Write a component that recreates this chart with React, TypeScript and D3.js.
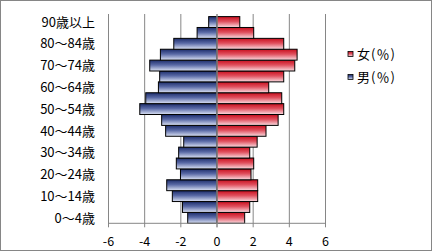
import React from "react";
import * as d3 from "d3";

const categories = [
  "0～4歳", "5～9歳", "10～14歳", "15～19歳", "20～24歳", "25～29歳", "30～34歳",
  "35～39歳", "40～44歳", "45～49歳", "50～54歳", "55～59歳", "60～64歳", "65～69歳",
  "70～74歳", "75～79歳", "80～84歳", "85～89歳", "90歳以上",
];
const male = [
  -1.62, -1.91, -2.47, -2.78, -2.02, -2.25, -2.12, -1.84, -2.84, -3.06,
  -4.27, -3.94, -3.24, -3.17, -3.72, -3.13, -2.39, -1.1, -0.46,
];
const female = [
  1.53, 1.81, 2.25, 2.25, 1.88, 2.03, 1.81, 2.22, 2.71, 3.38,
  3.69, 3.58, 2.86, 3.69, 4.3, 4.43, 3.69, 2.03, 1.26,
];
const xTicks = [-6, -4, -2, 0, 2, 4, 6];
const xTickLabels = ["-6", "-4", "-2", "0", "2", "4", "6"];
const seriesNames = ["女(％)", "男(％)"];

const W = 433;
const H = 252;
const FONT = "'Noto Sans CJK JP', 'Noto Sans', sans-serif";

export default function App() {
  const x = d3.scaleLinear().domain([-6, 6]).range([108.5, 325.5]);
  const y = d3
    .scaleBand<string>()
    .domain(categories)
    .range([223.3, 16.6])
    .padding(0);
  const bw = y.bandwidth();
  const plotBottom = 223.3;
  const gridTop = 14;

  return (
    <div style={{ position: "fixed", left: 0, top: 0 }}>
      <svg width={W} height={H} style={{ display: "block", fontFamily: FONT }}>
        <defs>
          <linearGradient id="gBlue" x1="0" y1="0" x2="0" y2="1">
            <stop offset="0" stopColor="#1c2c6a" />
            <stop offset="0.45" stopColor="#5a6aa6" />
            <stop offset="1" stopColor="#dce3f5" />
          </linearGradient>
          <linearGradient id="gRed" x1="0" y1="0" x2="0" y2="1">
            <stop offset="0" stopColor="#c80f1e" />
            <stop offset="0.45" stopColor="#e0505e" />
            <stop offset="1" stopColor="#fbdde2" />
          </linearGradient>
        </defs>
        <rect x={0} y={0} width={W} height={H} fill="#fff" />
        <rect x={0.5} y={0.5} width={431} height={250} fill="none" stroke="#868686" />

        {xTicks.map((t) => (
          <line
            key={"g" + t}
            x1={x(t)}
            x2={x(t)}
            y1={gridTop}
            y2={plotBottom + 4}
            stroke="#868686"
            strokeWidth={1}
          />
        ))}

        {categories.map((c, i) => (
          <rect
            key={"m" + c}
            x={x(male[i])}
            y={y(c)}
            width={x(0) - x(male[i])}
            height={bw}
            fill="url(#gBlue)"
            stroke="#000"
            strokeWidth={1}
          />
        ))}
        {categories.map((c, i) => (
          <rect
            key={"f" + c}
            x={x(0)}
            y={y(c)}
            width={x(female[i]) - x(0)}
            height={bw}
            fill="url(#gRed)"
            stroke="#000"
            strokeWidth={1}
          />
        ))}

        <line x1={x(0)} x2={x(0)} y1={gridTop} y2={plotBottom + 4} stroke="#9a9a9a" strokeWidth={1.3} />
        <line x1={x(-6)} x2={x(6)} y1={plotBottom} y2={plotBottom} stroke="#868686" />

        {categories.map((c, i) =>
          i % 2 === 0 ? (
            <text
              key={"l" + c}
              x={95}
              y={(y(c) as number) + bw / 2}
              dy="0.36em"
              textAnchor="end"
              fontSize={13}
              fill="#000"
            >
              {c}
            </text>
          ) : null
        )}

        {xTicks.map((t, i) => (
          <text
            key={"t" + t}
            x={x(t)}
            y={241}
            dy="0.36em"
            textAnchor="middle"
            fontSize={12.5}
            fill="#000"
          >
            {xTickLabels[i]}
          </text>
        ))}

        {seriesNames.map((s, i) => (
          <g key={s} transform={`translate(348, ${54 + i * 23})`}>
            <rect
              x={0}
              y={-2.5}
              width={5}
              height={5}
              fill={i === 0 ? "url(#gRed)" : "url(#gBlue)"}
              stroke="#000"
              strokeWidth={0.8}
            />
            <text
              x={9}
              y={0}
              dy="0.36em"
              fontSize={13}
              fill="#000"
              textLength={38}
              lengthAdjust="spacing"
            >
              {s}
            </text>
          </g>
        ))}
      </svg>
    </div>
  );
}
